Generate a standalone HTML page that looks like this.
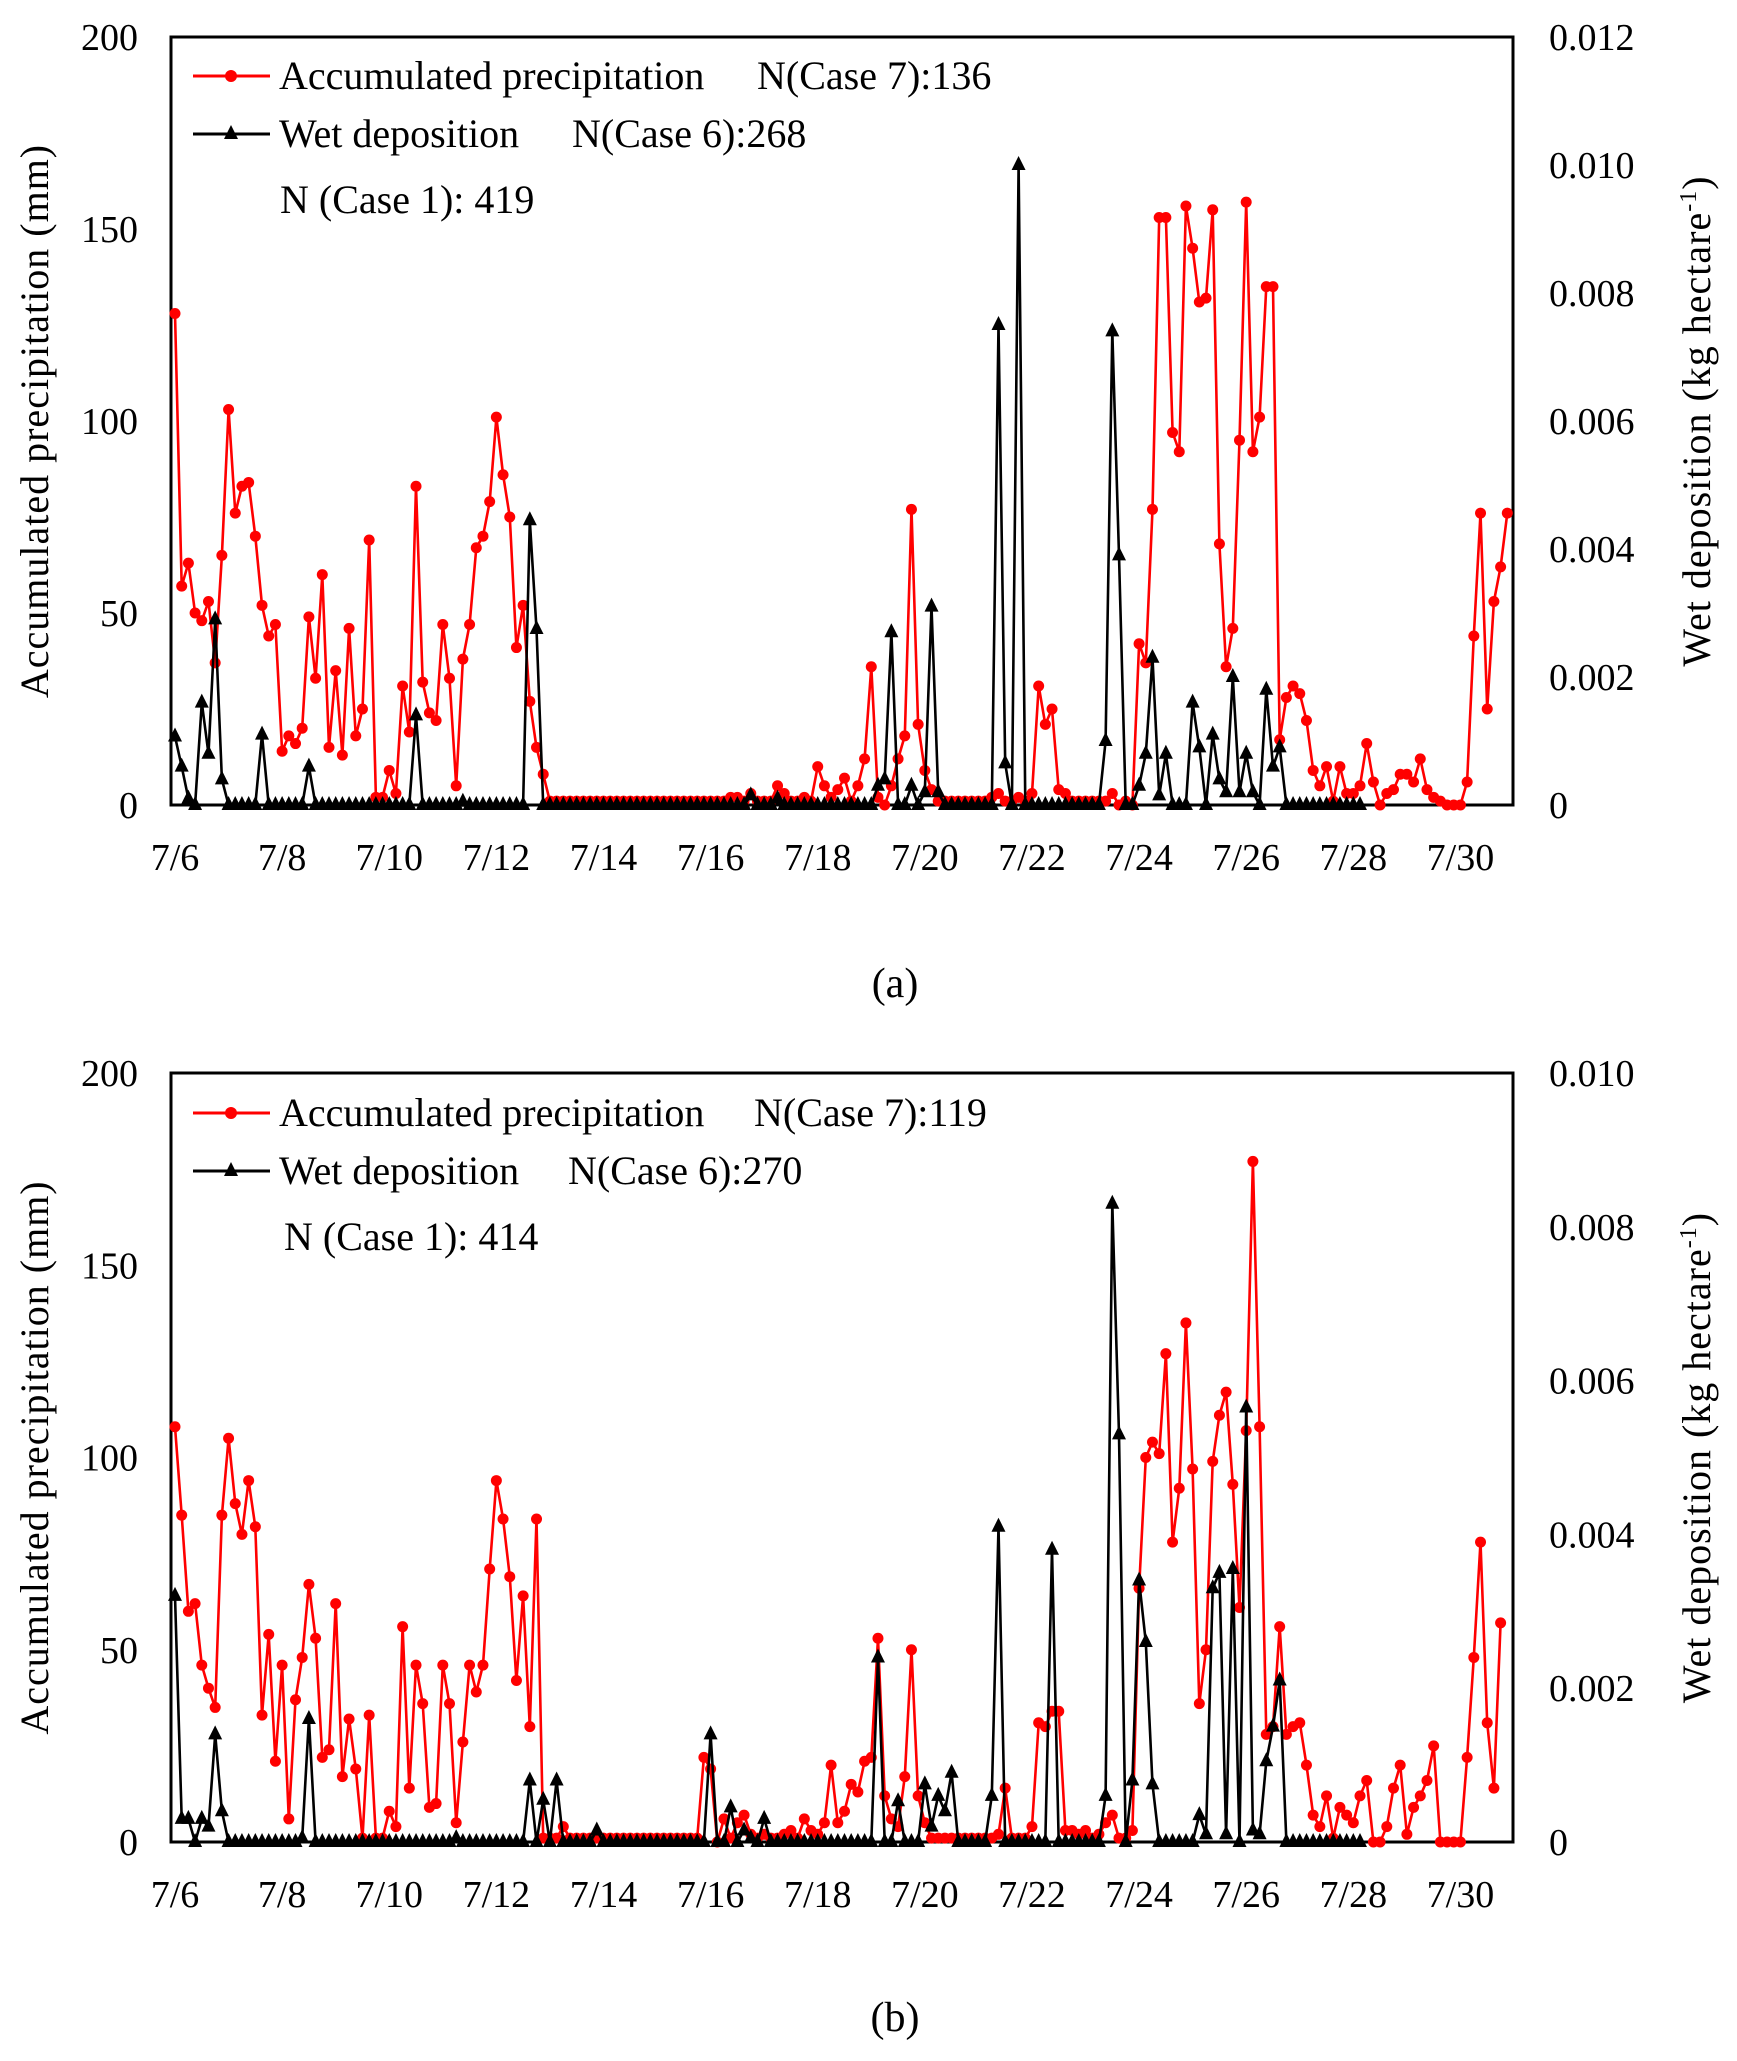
<!DOCTYPE html>
<html><head><meta charset="utf-8">
<style>
html,body{margin:0;padding:0;background:#fff;}
svg{display:block;}
svg text{font-family:"Liberation Serif","DejaVu Serif",serif;}
</style></head>
<body>
<svg id="fig" width="1737" height="2061" viewBox="0 0 1737 2061" xmlns="http://www.w3.org/2000/svg" font-family="Liberation Serif, DejaVu Serif, serif">
<rect x="0" y="0" width="1737" height="2061" fill="#fff"/>
</svg>
<script>
const xTickLabels = ["7/6","7/8","7/10","7/12","7/14","7/16","7/18","7/20","7/22","7/24","7/26","7/28","7/30"];
const leftTicksA = [0,50,100,150,200];
const rightTicksA = ["0","0.002","0.004","0.006","0.008","0.010","0.012"];
const leftTicksB = [0,50,100,150,200];
const rightTicksB = ["0","0.002","0.004","0.006","0.008","0.010"];
// 3-hourly values starting 7/6 00:00 (precip mm, deposition x1e-3 kg/ha)
const precipA = [
128,57,63,50,48,53,37,65, 103,76,83,84,70,52,44,47, 14,18,16,20,49,33,60,15, 35,13,46,18,25,69,2,2,
9,3,31,19,83,32,24,22, 47,33,5,38,47,67,70,79, 101,86,75,41,52,27,15,8, 1,1,1,1,1,1,1,1,
1,1,1,1,1,1,1,1, 1,1,1,1,1,1,1,1, 1,1,1,2,2,1,3,1, 1,1,5,3,1,1,2,1,
10,5,2,4,7,1,5,12, 36,2,0,5,12,18,77,21, 9,4,1,1,1,1,1,1, 1,1,2,3,1,1,2,1,
3,31,21,25,4,3,1,1, 1,1,1,1,3,0,1,0, 42,37,77,153,153,97,92,156, 145,131,132,155,68,36,46,95,
157,92,101,135,135,17,28,31, 29,22,9,5,10,1,10,3, 3,5,16,6,0,3,4,8, 8,6,12,4,2,1,0,0,
0,6,44,76,25,53,62,76];
const depoA = [
1.07,0.6,0.1,0,1.6,0.8,2.9,0.4, 0,0,0,0,0,1.1,0,0, 0,0,0,0,0.6,0,0,0, 0,0,0,0,0,0,0,0,
0,0,0,0,1.4,0,0,0, 0,0,0,0.05,0,0,0,0, 0,0,0,0,0,4.45,2.75,0, 0,0,0,0,0,0,0,0,
0,0,0,0,0,0,0,0, 0,0,0,0,0,0,0,0, 0,0,0,0,0,0,0.15,0, 0,0,0.1,0,0,0,0,0,
0,0,0,0,0,0,0,0, 0,0.3,0.4,2.7,0,0,0.3,0, 0.2,3.1,0.2,0,0,0,0,0, 0,0,0,7.5,0.65,0,10,0,
0,0,0,0,0,0,0,0, 0,0,0,1.0,7.4,3.9,0,0, 0.3,0.8,2.3,0.15,0.8,0,0,0, 1.6,0.9,0,1.1,0.4,0.2,2.0,0.2,
0.8,0.2,0,1.8,0.6,0.9,0,0, 0,0,0,0,0,0,0,0, 0,0];
const precipB = [
108,85,60,62,46,40,35,85, 105,88,80,94,82,33,54,21, 46,6,37,48,67,53,22,24, 62,17,32,19,1,33,1,1,
8,4,56,14,46,36,9,10, 46,36,5,26,46,39,46,71, 94,84,69,42,64,30,84,1, 1,1,4,1,1,1,1,1,
1,1,1,1,1,1,1,1, 1,1,1,1,1,1,1,22, 19,0,6,1,5,7,2,1, 2,1,1,2,3,1,6,3,
2,5,20,5,8,15,13,21, 22,53,12,6,4,17,50,12, 5,1,1,1,1,1,1,1, 1,1,1,2,14,1,1,1,
4,31,30,34,34,3,3,2, 3,1,2,5,7,1,1,3, 66,100,104,101,127,78,92,135, 97,36,50,99,111,117,93,61,
107,177,108,28,30,56,28,30, 31,20,7,4,12,1,9,7, 5,12,16,0,0,4,14,20, 2,9,12,16,25,0,0,0,
0,22,48,78,31,14,57];
const depoB = [
3.2,0.3,0.3,0,0.3,0.2,1.4,0.4, 0,0,0,0,0,0,0,0, 0,0,0,0.05,1.6,0,0,0, 0,0,0,0,0,0,0,0,
0,0,0,0,0,0,0,0, 0,0,0.05,0,0,0,0,0, 0,0,0,0,0,0.8,0,0.55, 0,0.8,0,0,0,0,0,0.15,
0,0,0,0,0,0,0,0, 0,0,0,0,0,0,0,0, 1.4,0,0,0.45,0,0.15,0.05,0, 0.3,0,0,0,0,0,0,0,
0,0,0,0,0,0,0,0, 0,2.4,0,0,0.53,0,0,0, 0.75,0.2,0.6,0.4,0.9,0,0,0, 0,0,0.6,4.1,0,0,0,0,
0,0,0,3.8,0,0,0,0, 0,0,0,0.6,8.3,5.3,0,0.8, 3.4,2.6,0.75,0,0,0,0,0, 0,0.35,0.1,3.3,3.5,0.1,3.55,0,
5.65,0.15,0.1,1.05,1.5,2.1,0,0, 0,0,0,0,0,0,0,0, 0,0];

const NS = "http://www.w3.org/2000/svg";
const FF = '"Liberation Serif", "DejaVu Serif", serif';
const svg = document.getElementById('fig');
function mk(tag, attrs, parent, text){
  const e = document.createElementNS(NS, tag);
  for (const k in attrs) e.setAttribute(k, attrs[k]);
  if (tag === 'text') e.style.fontFamily = FF;
  if (text !== undefined) e.textContent = text;
  (parent||svg).appendChild(e);
  return e;
}

function panel(cfg){
  const g = mk('g', {});
  
  
  const L=171, R=1513, T=cfg.top, B=cfg.bottom;
  const x0 = 175, dayW = 53.56;
  const xs = i => x0 + dayW * (i/8);
  const yl = v => B - (v/200)*(B-T);
  const yr = v => B - (v/cfg.rmax)*(B-T);
  const fr = mk('rect',{x:L,y:T,width:R-L,height:B-T,fill:'none',stroke:'#000','stroke-width':3},g);
  
  
  cfg.lticks.forEach(v=>{
    const t = mk('text',{x:138,y:yl(v)+13,'text-anchor':'end','font-size':38},g,String(v));
    
    
  });
  cfg.rticks.forEach((s,i)=>{
    const v = i*0.002;
    const t = mk('text',{x:1549,y:B - (v/(cfg.rmax/1000))*(B-T)+13,'font-size':38},g,s);
    
    
  });
  xTickLabels.forEach((s,i)=>{
    const t = mk('text',{x:x0+dayW*2*i,y:B+65,'text-anchor':'middle','font-size':38},g,s);
    
    
  });
  const lt = mk('text',{x:0,y:0,'text-anchor':'middle','font-size':40,'letter-spacing':1,transform:`translate(48,${(T+B)/2}) rotate(-90)`},g,'Accumulated precipitation (mm)');
  
  
  const rt = mk('text',{x:0,y:0,'text-anchor':'middle','font-size':40,'letter-spacing':1,transform:`translate(1710,${(T+B)/2}) rotate(-90)`},g);
  
  
  mk('tspan',{},rt,'Wet  deposition (kg hectare');
  mk('tspan',{dy:-14,'font-size':24},rt,'-1');
  mk('tspan',{dy:14},rt,')');
  const pp = cfg.precip.map((v,i)=>`${xs(i).toFixed(1)},${yl(v).toFixed(1)}`).join(' ');
  const pl = mk('polyline',{points:pp,fill:'none',stroke:'#ff0000','stroke-width':2.6,'stroke-linejoin':'round'},g);
  
  
  cfg.precip.forEach((v,i)=>{
    const c = mk('circle',{cx:xs(i),cy:yl(v),r:5.5,fill:'#ff0000'},g);
    
    
  });
  const dp = cfg.depo.map((v,i)=>`${xs(i).toFixed(1)},${yr(v).toFixed(1)}`).join(' ');
  const dl = mk('polyline',{points:dp,fill:'none',stroke:'#000','stroke-width':2.6,'stroke-linejoin':'round'},g);
  
  
  cfg.depo.forEach((v,i)=>{
    const x=xs(i), y=yr(v);
    const p = mk('polygon',{points:`${x},${y-9} ${x-7},${y+5} ${x+7},${y+5}`,fill:'#000'},g);
    
    
  });
  const ly = cfg.legY;
  const l1 = mk('line',{x1:193,y1:ly[0],x2:270,y2:ly[0],stroke:'#ff0000','stroke-width':3},g);
  
  
  mk('circle',{cx:231,cy:ly[0],r:6,fill:'#ff0000'},g);
  const l2 = mk('line',{x1:193,y1:ly[1],x2:270,y2:ly[1],stroke:'#000','stroke-width':3},g);
  
  
  mk('polygon',{points:`231,${ly[1]-9} 224,${ly[1]+5} 238,${ly[1]+5}`,fill:'#000'},g);
  const t1 = mk('text',{x:279,y:ly[0]+13,'font-size':40},g,'Accumulated precipitation');
  
  
  mk('text',{x:cfg.n7x,y:ly[0]+13,'font-size':40},g,cfg.n7);
  const t2 = mk('text',{x:279,y:ly[1]+13,'font-size':40},g,'Wet  deposition');
  
  
  mk('text',{x:cfg.n6x,y:ly[1]+13,'font-size':40},g,cfg.n6);
  const t3 = mk('text',{x:cfg.n1x,y:ly[2]+13,'font-size':40},g,cfg.n1);
  
  
  const cap = mk('text',{x:895,y:cfg.capY,'text-anchor':'middle','font-size':42},g,cfg.cap);
  
  
}

panel({name:'panel-a',top:37,bottom:805,rmax:12,lticks:leftTicksA,rticks:rightTicksA,
  precip:precipA,depo:depoA,legY:[76,134,200],n7:'N(Case 7):136',n7x:757,n6:'N(Case 6):268',n6x:572,
  n1:'N (Case 1): 419',n1x:280,cap:'(a)',capY:997});
panel({name:'panel-b',top:1073,bottom:1842,rmax:10,lticks:leftTicksB,rticks:rightTicksB,
  precip:precipB,depo:depoB,legY:[1113,1171,1237],n7:'N(Case 7):119',n7x:754,n6:'N(Case 6):270',n6x:568,
  n1:'N (Case 1): 414',n1x:284,cap:'(b)',capY:2031});
</script>
</body></html>
